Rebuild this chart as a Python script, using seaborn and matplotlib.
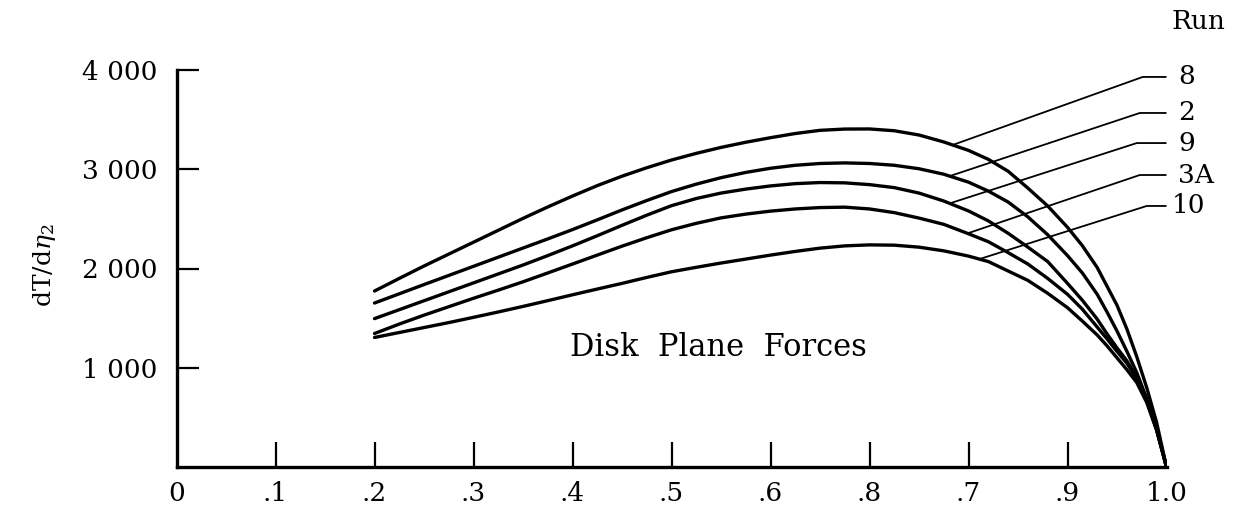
import numpy as np
import pandas as pd
import matplotlib
matplotlib.use("Agg")
import matplotlib.pyplot as plt
import seaborn as sns

# Radial station (fraction of radius) at which each curve was sampled
eta = [0.200, 0.225, 0.250, 0.275, 0.300, 0.325, 0.350, 0.375, 0.400, 0.425,
       0.450, 0.475, 0.500, 0.525, 0.550, 0.575, 0.600, 0.625, 0.650, 0.675,
       0.700, 0.725, 0.750, 0.775, 0.800, 0.820, 0.840, 0.860, 0.880, 0.900,
       0.915, 0.930, 0.940, 0.950, 0.960, 0.970, 0.980, 0.990, 1.000]

# dT/d(eta_2) for each run, disk plane forces
run_8 = [1773, 1900, 2025, 2145, 2265, 2385, 2505, 2620, 2730, 2835,
         2930, 3015, 3093, 3160, 3220, 3272, 3318, 3360, 3392, 3405,
         3406, 3388, 3345, 3275, 3190, 3100, 2980, 2810, 2630, 2415,
         2230, 2010, 1820, 1630, 1390, 1110, 800, 450, 0]
run_2 = [1652, 1745, 1838, 1930, 2022, 2114, 2206, 2298, 2392, 2490,
         2590, 2685, 2775, 2850, 2915, 2968, 3010, 3040, 3058, 3064,
         3058, 3040, 3005, 2950, 2870, 2780, 2670, 2520, 2340, 2130,
         1955, 1740, 1560, 1370, 1165, 950, 690, 380, 0]
run_9 = [1495, 1585, 1675, 1765, 1855, 1945, 2035, 2130, 2228, 2330,
         2435, 2537, 2633, 2705, 2760, 2800, 2832, 2855, 2866, 2863,
         2845, 2815, 2760, 2680, 2580, 2480, 2355, 2215, 2070, 1850,
         1680, 1490, 1340, 1200, 1070, 900, 680, 380, 0]
run_3a = [1345, 1440, 1530, 1615, 1700, 1782, 1866, 1955, 2045, 2135,
          2225, 2310, 2390, 2455, 2510, 2548, 2578, 2600, 2614, 2618,
          2600, 2563, 2508, 2445, 2350, 2270, 2160, 2045, 1900, 1740,
          1590, 1410, 1290, 1165, 1045, 890, 670, 380, 0]
run_10 = [1305, 1355, 1405, 1455, 1508, 1562, 1618, 1676, 1735, 1793,
          1850, 1910, 1967, 2012, 2055, 2095, 2135, 2172, 2205, 2228,
          2238, 2235, 2215, 2178, 2125, 2070, 1975, 1880, 1750, 1605,
          1470, 1330, 1220, 1100, 980, 850, 650, 370, 0]

run_names = ["8", "2", "9", "3A", "10"]
run_values = [run_8, run_2, run_9, run_3a, run_10]

# Where each label's leader line touches its curve, and the label height
leader_x = [0.784, 0.781, 0.781, 0.799, 0.811]
label_y = [3930, 3567, 3264, 2942, 2630]
elbow_x = [0.976, 0.973, 0.970, 0.973, 0.980]

x_ticks = [0.0, 0.1, 0.2, 0.3, 0.4, 0.5, 0.6, 0.7, 0.8, 0.9, 1.0]
x_tick_labels = ["0", ".1", ".2", ".3", ".4", ".5", ".6", ".8", ".7", ".9", "1.0"]
y_ticks = [1000, 2000, 3000, 4000]
y_tick_labels = ["1 000", "2 000", "3 000", "4 000"]

df = pd.DataFrame({
    "eta": np.tile(eta, len(run_names)),
    "dT": np.concatenate(run_values),
    "run": np.repeat(run_names, len(eta)),
})

sns.set_theme(style="white")
plt.rcParams["font.family"] = ["DejaVu Serif"]
plt.rcParams["mathtext.fontset"] = "dejavuserif"
plt.rcParams["text.color"] = "black"
plt.rcParams["axes.labelcolor"] = "black"

fig = plt.figure(figsize=(12.35, 5.12), dpi=100)
ax = fig.add_axes([176.5 / 1235, 45 / 512, 990 / 1235, 397 / 512])

sns.lineplot(data=df, x="eta", y="dT", hue="run", units="run", estimator=None,
             palette={r: "black" for r in run_names}, sort=False,
             linewidth=2.4, legend=False, ax=ax)

# Leader lines from each curve to its run label
for name, vals, lx, ly, ex in zip(run_names, run_values, leader_x, label_y, elbow_x):
    cy = np.interp(lx, eta, vals)
    ax.plot([lx, ex, 1.0], [cy, ly, ly], color="black", linewidth=1.3,
            clip_on=False, solid_capstyle="butt")
    tx = 1.005 if name == "10" else 1.012
    ax.text(tx, ly, name, fontsize=19, color="black", va="center", ha="left",
            clip_on=False)

ax.text(1.005, 4484, "Run", fontsize=19, color="black", va="center", ha="left",
        clip_on=False)
ax.text(0.547, 1199, "Disk  Plane  Forces", fontsize=22, color="black",
        va="center", ha="center")

ax.set_xlim(0, 1.0)
ax.set_ylim(0, 4000)
ax.set_xticks(x_ticks)
ax.set_xticklabels(x_tick_labels)
ax.set_yticks(y_ticks)
ax.set_yticklabels(y_tick_labels)
ax.tick_params(axis="both", direction="in", width=1.6, color="black",
               labelsize=19, labelcolor="black", bottom=True, left=True)
ax.tick_params(axis="x", pad=10, length=18)
ax.tick_params(axis="y", pad=14, length=16)
# no tick marks at the two ends of the radius axis
for t in (ax.xaxis.get_major_ticks()[0], ax.xaxis.get_major_ticks()[-1]):
    t.tick1line.set_visible(False)
ax.set_xlabel("")
ax.set_ylabel("")

for side in ["top", "right"]:
    ax.spines[side].set_visible(False)
for side in ["left", "bottom"]:
    ax.spines[side].set_color("black")
    ax.spines[side].set_linewidth(2.4)

fig.text(45 / 1235, (512 - 265) / 512, r"dT/d$\eta_2$", rotation=90,
         fontsize=18, color="black", va="center", ha="center")

fig.savefig("out.png", dpi=100, facecolor="white")
